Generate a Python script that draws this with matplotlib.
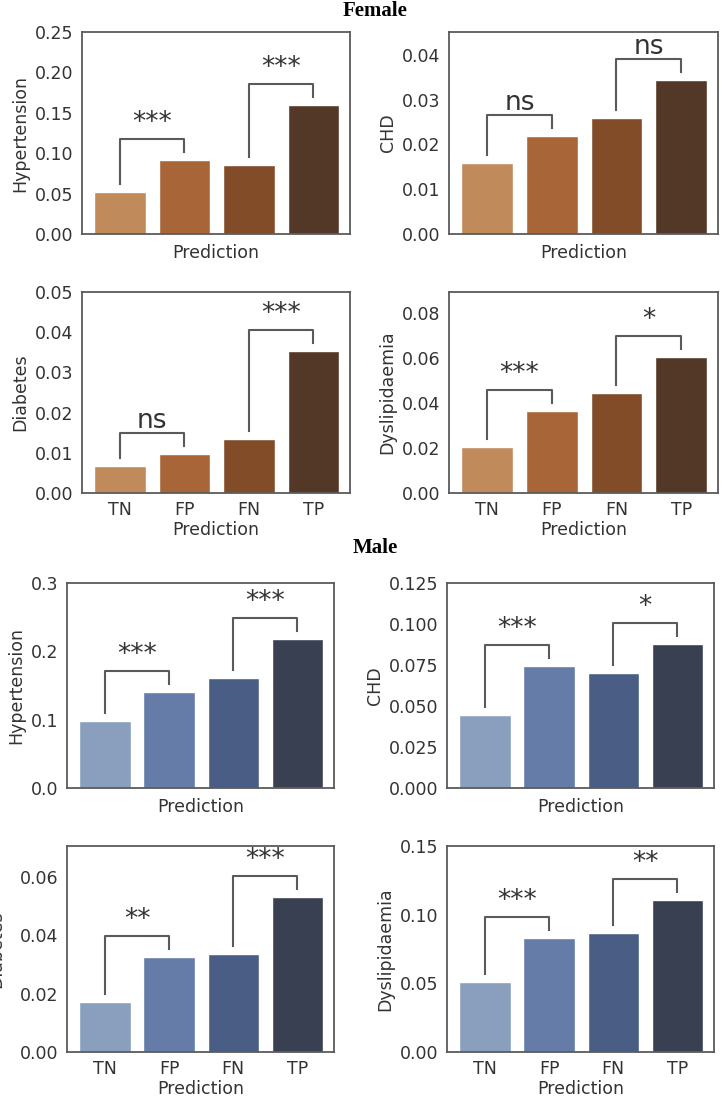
import matplotlib
matplotlib.use('Agg')
import matplotlib.pyplot as plt
import numpy as np

# --- data ---
categories = ['TN', 'FP', 'FN', 'TP']
outcomes = ['Hypertension', 'CHD', 'Diabetes', 'Dyslipidaemia']

female_hypertension = [0.0516, 0.092, 0.0858, 0.160]
female_chd = [0.0158, 0.0218, 0.0259, 0.0343]
female_diabetes = [0.0066, 0.0097, 0.0134, 0.0354]
female_dyslipidaemia = [0.0205, 0.0365, 0.0443, 0.0603]

male_hypertension = [0.098, 0.140, 0.161, 0.218]
male_chd = [0.0445, 0.0746, 0.0701, 0.0876]
male_diabetes = [0.0171, 0.0326, 0.0336, 0.0532]
male_dyslipidaemia = [0.051, 0.083, 0.087, 0.111]

# significance labels for (TN vs FP) and (FN vs TP)
female_sig = [['***', '***'], ['ns', 'ns'], ['ns', '***'], ['***', '*']]
male_sig = [['***', '***'], ['***', '*'], ['**', '***'], ['***', '**']]

female_ylims = [0.25, 0.0451, 0.05, 0.0893]
male_ylims = [0.30, 0.125, 0.0706, 0.15]
female_ysteps = [0.05, 0.01, 0.01, 0.02]
male_ysteps = [0.1, 0.025, 0.02, 0.05]

female_colors = ['#C08A5A', '#A86537', '#834C28', '#543827']
male_colors = ['#8A9EBE', '#667CA8', '#4A5E85', '#384052']

W, H = 722, 1098
text_col = '#333333'
spine_col = '#5a5a5a'

plt.rcParams['font.family'] = ['DejaVu Sans']

fig = plt.figure(figsize=(W / 100, H / 100), dpi=100)

# axes boxes in pixels: (left, top, right, bottom)
female_boxes = [(82, 32, 350, 234), (449, 32, 718, 234),
                (82, 292, 350, 493), (449, 292, 718, 493)]
male_boxes = [(67, 583, 334, 788), (447, 583, 714, 788),
              (67, 846, 334, 1052), (447, 846, 714, 1052)]


def draw_panel(box, values, ylabel, ytop, ystep, colors, sig, show_xticks, ypad=4):
    l, t, r, b = box
    ax = fig.add_axes([l / W, 1 - b / H, (r - l) / W, (b - t) / H])
    x = np.arange(len(categories))
    ax.bar(x, values, width=0.8, color=colors, edgecolor='white', linewidth=1)
    ax.set_xlim(-0.59, 3.57)
    ax.set_ylim(0, ytop)
    ax.set_yticks(np.arange(0, ytop + 1e-9, ystep))
    ax.set_xticks(x)
    if show_xticks:
        ax.set_xticklabels(categories)
    else:
        ax.set_xticklabels([])
    ax.tick_params(length=0, labelsize=12.5, colors=text_col, pad=6)
    ax.set_xlabel('Prediction', fontsize=12.5, color=text_col, labelpad=1)
    ax.set_ylabel(ylabel, fontsize=12.5, color=text_col, labelpad=ypad)
    for s in ax.spines.values():
        s.set_color(spine_col)
        s.set_linewidth(1.3)

    px = ytop / (b - t)  # data units per pixel
    for (i, j), lab in zip([(0, 1), (2, 3)], sig):
        y1 = values[i] + 8 * px
        y2 = values[j] + 8 * px
        ytop_br = max(values[i], values[j]) + 21 * px
        ax.plot([i, i, j, j], [y1, ytop_br, ytop_br, y2], color=spine_col,
                lw=1.5, clip_on=False)
        off = 5 if lab == 'ns' else 9
        ax.text((i + j) / 2, ytop_br + off * px, lab, ha='center', va='baseline',
                fontsize=19, color=text_col, clip_on=False)
    return ax


female_vals = [female_hypertension, female_chd, female_diabetes, female_dyslipidaemia]
male_vals = [male_hypertension, male_chd, male_diabetes, male_dyslipidaemia]

for k in range(4):
    draw_panel(female_boxes[k], female_vals[k], outcomes[k], female_ylims[k],
               female_ysteps[k], female_colors, female_sig[k], k >= 2)
    draw_panel(male_boxes[k], male_vals[k], outcomes[k], male_ylims[k],
               male_ysteps[k], male_colors, male_sig[k], k >= 2,
               ypad=11 if k == 2 else 4)

fig.text(375 / W, 1 - 11 / H, 'Female', ha='center', va='center',
         fontsize=15, fontweight='bold', family='Liberation Serif', color='black')
fig.text(375 / W, 1 - 548 / H, 'Male', ha='center', va='center',
         fontsize=15, fontweight='bold', family='Liberation Serif', color='black')

fig.savefig('out.png', dpi=100)
